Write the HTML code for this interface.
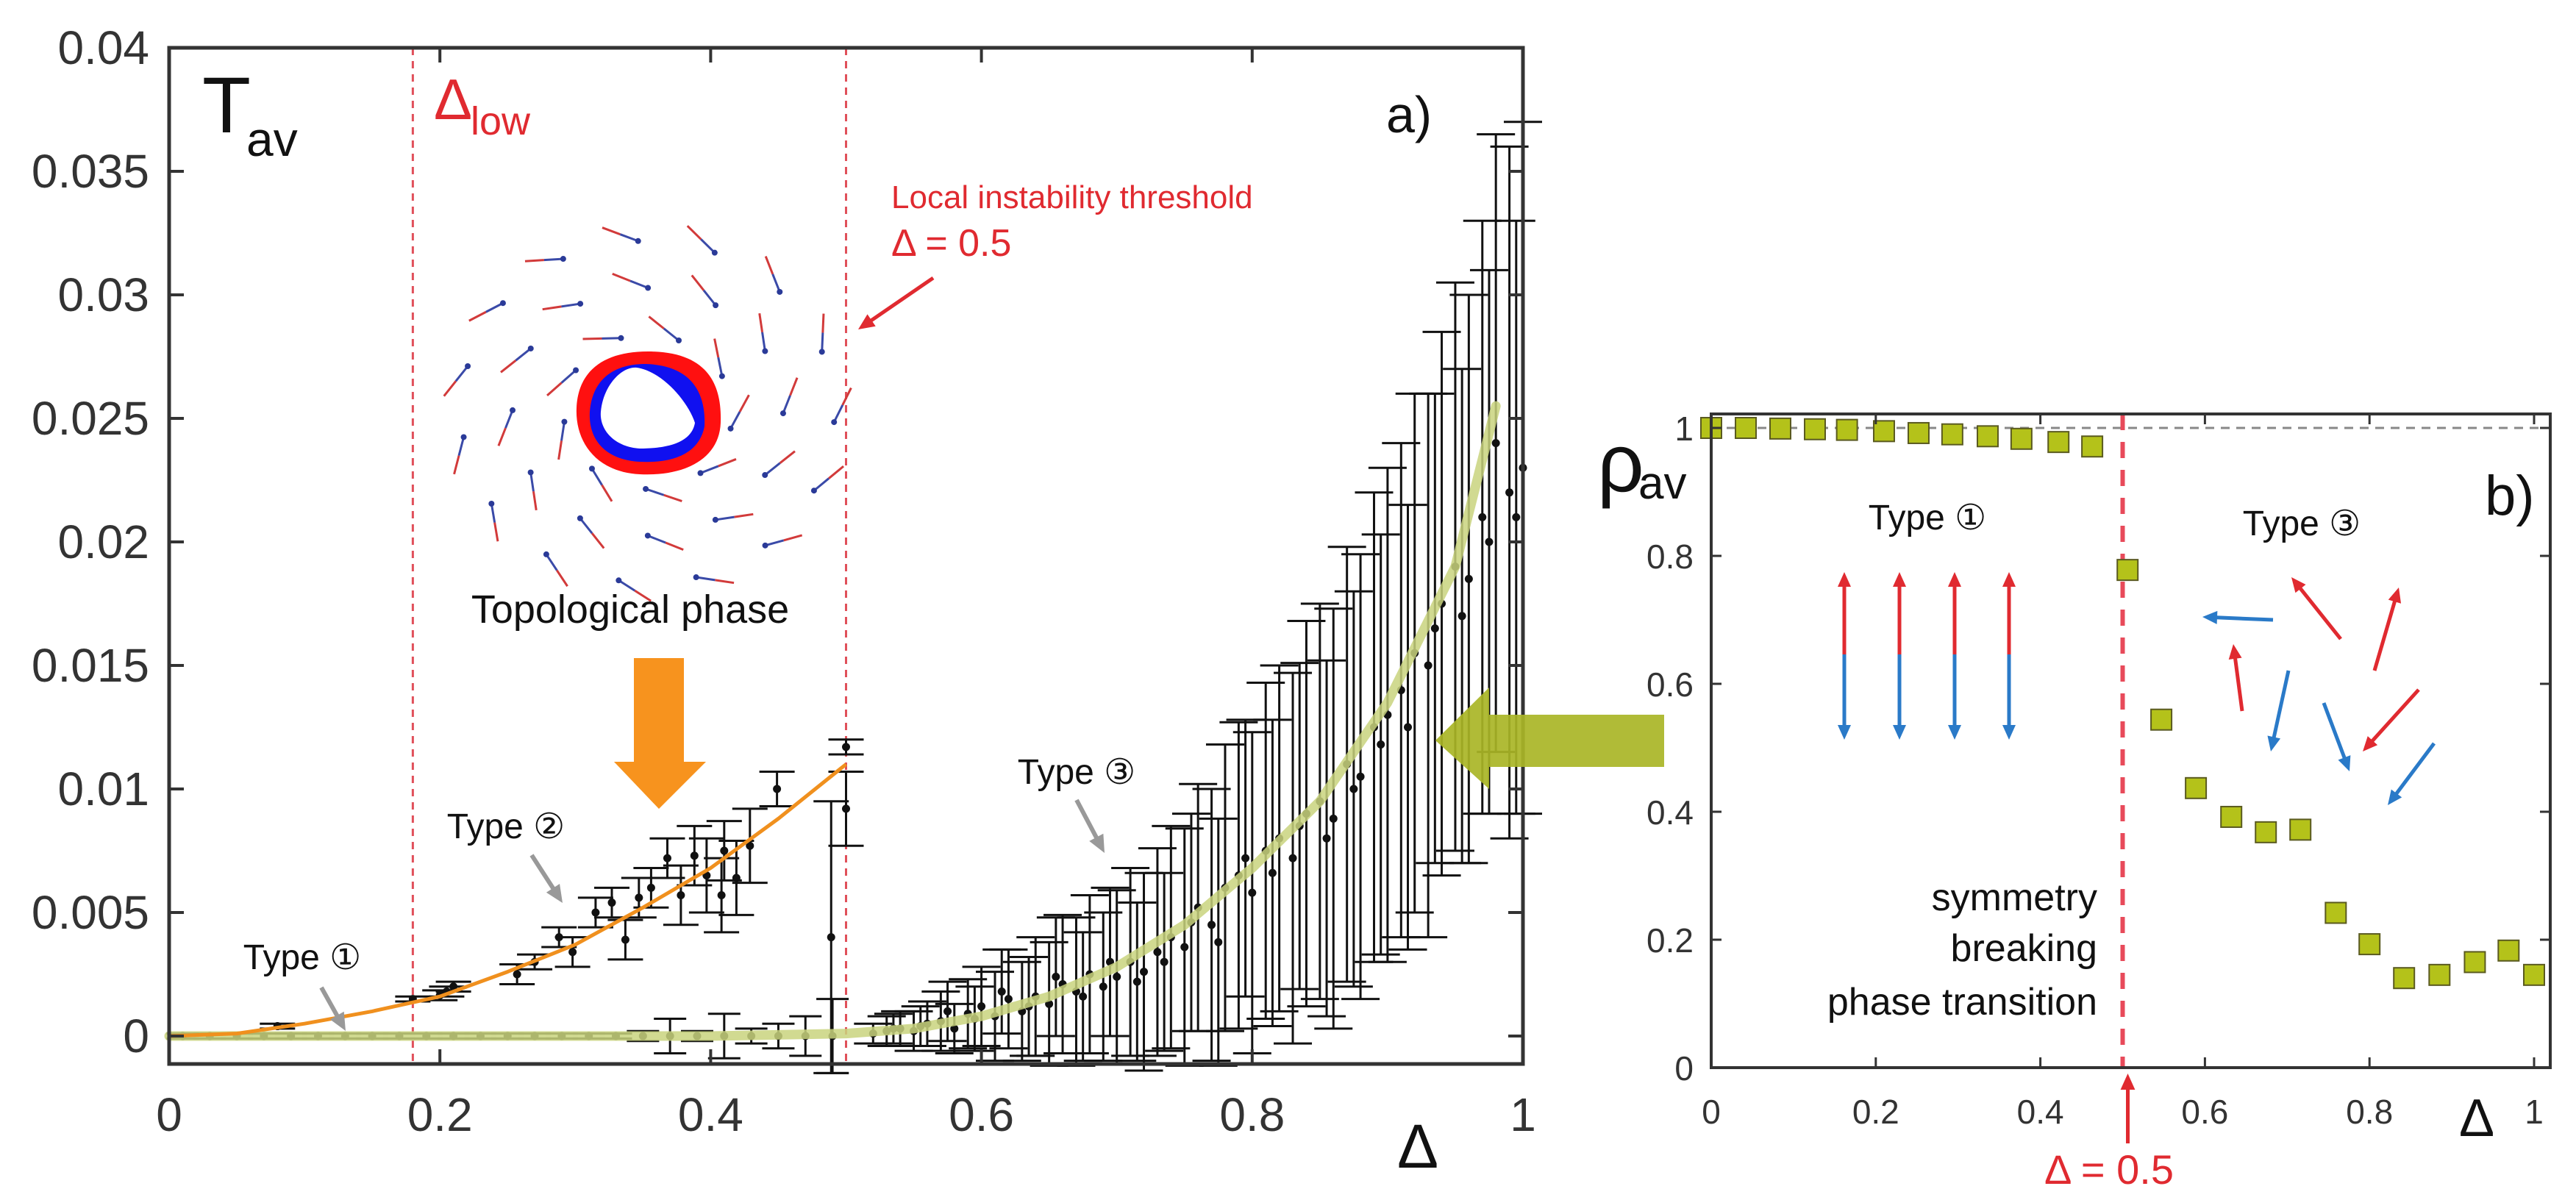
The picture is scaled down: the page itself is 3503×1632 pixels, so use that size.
<!DOCTYPE html>
<html><head><meta charset="utf-8"><style>
html,body{margin:0;padding:0;background:#fff}
svg{display:block}
text{font-family:"Liberation Sans",Arial,sans-serif}
</style></head>
<body>
<svg id="fig" width="3503" height="1632" viewBox="0 0 3503 1632" xmlns="http://www.w3.org/2000/svg">
<g id="pa"></g>
<g id="pb"></g>
</svg>
<script>
// ---------- Panel a data ----------
const aXTicks = [0, 0.2, 0.4, 0.6, 0.8, 1];
const aXTickLabels = ["0", "0.2", "0.4", "0.6", "0.8", "1"];
const aYTicks = [0, 0.005, 0.01, 0.015, 0.02, 0.025, 0.03, 0.035, 0.04];
const aYTickLabels = ["0", "0.005", "0.01", "0.015", "0.02", "0.025", "0.03", "0.035", "0.04"];
const type2X = [0.08,0.18,0.2,0.205,0.21,0.257,0.27,0.288,0.298,0.315,0.327,0.337,0.347,0.356,0.368,0.378,0.388,0.397,0.408,0.41,0.419,0.429,0.449,0.489,0.5,0.5];
const type2Y = [0.0004,0.0015,0.00165,0.0018,0.002,0.0025,0.003,0.004,0.0034,0.005,0.0054,0.0039,0.0056,0.006,0.0072,0.0057,0.0073,0.0065,0.0057,0.0075,0.0064,0.0077,0.01,0.004,0.0117,0.0092];
const type2Err = [0.0001,0.0001,0.0002,0.0002,0.0002,0.0004,0.0003,0.0004,0.0006,0.0006,0.0006,0.0008,0.0008,0.0008,0.0008,0.0012,0.0012,0.0015,0.0015,0.0012,0.0015,0.0015,0.0007,0.0055,0.0003,0.0015];
const type1X = [0.01,0.03,0.05,0.07,0.09,0.11,0.13,0.15,0.17,0.19,0.21,0.23,0.25,0.27,0.29,0.31,0.33,0.35,0.37,0.39,0.41,0.43,0.45,0.47,0.49];
const type1Y = [0,0,0,0,0,0,0,0,0,0,0,0,0,0,0,0,0,0,0,0,0,0,0,0,0];
const type1Err = [0.0001,0.0001,0.0001,0.0001,0.0001,0.0001,0.0001,0.0001,0.0001,0.0001,0.0001,0.0001,0.0001,0.0001,0.0001,0.0001,0.0001,0.0002,0.0007,0.0002,0.0009,0.0003,0.0005,0.0008,0.0015];
const type3X = [0.52,0.53,0.54,0.55,0.56,0.57,0.58,0.59,0.60,0.61,0.62,0.63,0.64,0.65,0.66,0.67,0.68,0.69,0.70,0.71,0.72,0.73,0.74,0.75,0.76,0.77,0.78,0.79,0.80,0.81,0.82,0.83,0.84,0.85,0.86,0.87,0.88,0.89,0.90,0.91,0.92,0.93,0.94,0.95,0.96,0.97,0.98,0.99,1.0];
const type3Y = [0.0001,0.0002,0.0003,0.0002,0.0005,0.0006,0.0003,0.0009,0.0012,0.0008,0.0015,0.0010,0.0016,0.0013,0.0021,0.0018,0.0025,0.0020,0.0024,0.0030,0.0026,0.0034,0.0040,0.0036,0.0052,0.0045,0.0060,0.0065,0.0058,0.0075,0.0080,0.0072,0.0090,0.0095,0.0088,0.0110,0.0105,0.0125,0.0130,0.0140,0.0155,0.0150,0.0175,0.0190,0.0185,0.0210,0.0240,0.0220,0.0230];
const type3Err = [0.0004,0.0006,0.0007,0.0008,0.0009,0.0012,0.0010,0.0014,0.0016,0.0018,0.0020,0.0020,0.0024,0.0025,0.0028,0.0030,0.0032,0.0030,0.0035,0.0038,0.0040,0.0042,0.0045,0.0048,0.0050,0.0055,0.0058,0.0062,0.0065,0.0068,0.0070,0.0075,0.0078,0.0080,0.0085,0.0088,0.0090,0.0095,0.0100,0.0100,0.0105,0.0110,0.0110,0.0115,0.0115,0.0120,0.0125,0.0140,0.0140];
const type3bX = [0.535,0.555,0.575,0.595,0.615,0.635,0.655,0.675,0.695,0.715,0.735,0.755,0.775,0.795,0.815,0.835,0.855,0.875,0.895,0.915,0.935,0.955,0.975,0.995];
const type3bY = [0.0003,0.0004,0.0010,0.0007,0.0018,0.0012,0.0024,0.0016,0.0030,0.0022,0.0030,0.0046,0.0038,0.0072,0.0066,0.0085,0.0080,0.0100,0.0118,0.0125,0.0165,0.0170,0.0200,0.0210];
const type3bErr = [0.0006,0.0008,0.0012,0.0013,0.0017,0.0020,0.0024,0.0026,0.0030,0.0032,0.0036,0.0044,0.0050,0.0056,0.0062,0.0066,0.0072,0.0080,0.0085,0.0090,0.0095,0.0100,0.0110,0.0120];
const orangeX = [0,0.05,0.1,0.15,0.2,0.25,0.3,0.35,0.4,0.45,0.5];
const orangeY = [0,0.0001,0.0005,0.001,0.0016,0.0026,0.0037,0.0052,0.0068,0.0088,0.011];
const greenX = [0,0.1,0.2,0.3,0.4,0.5,0.55,0.6,0.65,0.7,0.75,0.8,0.85,0.9,0.95,0.98];
const greenY = [0,0,0,0,0,0.0001,0.0003,0.0008,0.0016,0.0028,0.0045,0.0068,0.0095,0.0135,0.019,0.0255];

// ---------- Panel b data ----------
const bXTicks = [0,0.2,0.4,0.6,0.8,1];
const bXTickLabels = ["0","0.2","0.4","0.6","0.8","1"];
const bYTicks = [0,0.2,0.4,0.6,0.8,1];
const bYTickLabels = ["0","0.2","0.4","0.6","0.8","1"];
const rhoX = [0,0.042,0.084,0.126,0.165,0.21,0.252,0.293,0.336,0.377,0.422,0.463,0.506,0.547,0.589,0.632,0.674,0.716,0.759,0.8,0.842,0.885,0.928,0.969,1.0];
const rhoY = [1,1,0.999,0.998,0.997,0.995,0.992,0.99,0.987,0.983,0.978,0.971,0.778,0.544,0.437,0.392,0.368,0.372,0.242,0.193,0.140,0.145,0.165,0.183,0.145];

const NS="http://www.w3.org/2000/svg";
function mk(parent,tag,attrs,txt){const e=document.createElementNS(NS,tag);for(const k in attrs)e.setAttribute(k,attrs[k]);if(txt!==undefined)e.textContent=txt;parent.appendChild(e);return e;}
const pa=document.getElementById('pa'), pb=document.getElementById('pb');

const AX0=230, AX1=2071, AY0=1409, ATOP=65, ABOT=1447;
const ax=v=>AX0+v*(AX1-AX0);
const ay=t=>AY0-t*33600;

[0.18,0.5].forEach(v=>{
  const l=mk(pa,'line',{x1:ax(v),x2:ax(v),y1:ATOP,y2:ABOT,stroke:'#e0505a','stroke-width':3,'stroke-dasharray':'10 8'});
  
  
});

// vortex decoration
const vort=mk(pa,'g',{});


const vcx=881,vcy=560;
for(let ring=0;ring<3;ring++){
  const r=125+ring*70;
  const n=9+ring*3;
  for(let i=0;i<n;i++){
    const th=i/n*2*Math.PI+ring*0.4;
    const px=vcx+r*Math.cos(th), py=vcy+r*0.92*Math.sin(th);
    const tx=-Math.sin(th+0.5), ty=Math.cos(th+0.5);
    const L=26;
    const x1=px-tx*L,y1=py-ty*L,x2=px+tx*L,y2=py+ty*L;
    mk(vort,'line',{x1:x1,y1:y1,x2:px,y2:py,stroke:'#d23a3a','stroke-width':3});
    mk(vort,'line',{x1:px,y1:py,x2:x2,y2:y2,stroke:'#3a4aa8','stroke-width':3});
    mk(vort,'circle',{cx:x2,cy:y2,r:4,fill:'#2a3a98'});
  }
}
mk(vort,'path',{d:'M881,478 C960,478 982,520 980,575 C978,625 930,648 870,645 C810,642 782,600 784,555 C786,505 820,478 881,478 Z',fill:'#ff1010'});
mk(vort,'path',{d:'M878,495 C945,497 960,540 958,580 C950,620 910,630 870,628 C820,625 800,595 802,560 C805,520 830,495 878,495 Z',fill:'#1010f0'});
mk(vort,'path',{d:'M866,500 C900,505 935,545 945,575 C940,605 900,610 870,610 C836,608 815,585 817,560 C820,525 845,498 866,500 Z',fill:'#fff'});

function ebar(g,x,y,e,cw,name){
  const gg=mk(g,'g',{});
  
  
  const X=ax(x);
  mk(gg,'line',{x1:X,x2:X,y1:ay(y-e),y2:ay(y+e),stroke:'#111','stroke-width':3});
  mk(gg,'line',{x1:X-cw,x2:X+cw,y1:ay(y-e),y2:ay(y-e),stroke:'#111','stroke-width':3});
  mk(gg,'line',{x1:X-cw,x2:X+cw,y1:ay(y+e),y2:ay(y+e),stroke:'#111','stroke-width':3});
  mk(gg,'circle',{cx:X,cy:ay(y),r:5.5,fill:'#111'});
}
const g1=mk(pa,'g',{});


type1X.forEach((x,i)=>ebar(g1,x,type1Y[i],type1Err[i],22,'type1-point'));
const g3=mk(pa,'g',{});


type3X.forEach((x,i)=>ebar(g3,x,type3Y[i],type3Err[i],26,'type3-point'));
const g3b=mk(pa,'g',{});


type3bX.forEach((x,i)=>ebar(g3b,x,type3bY[i],type3bErr[i],26,'type3-point'));
const g2=mk(pa,'g',{});


type2X.forEach((x,i)=>ebar(g2,x,type2Y[i],type2Err[i],24,'type2-point'));

function poly(xs,ys){return xs.map((x,i)=>ax(x).toFixed(1)+','+ay(ys[i]).toFixed(1)).join(' ');}
const gc=mk(pa,'polyline',{points:poly(greenX,greenY),fill:'none',stroke:'#c9d47e','stroke-width':13,'stroke-opacity':0.85,'stroke-linejoin':'round','stroke-linecap':'round'});


const oc=mk(pa,'polyline',{points:poly(orangeX,orangeY),fill:'none',stroke:'#f0901e','stroke-width':5,'stroke-linejoin':'round'});



const boxA=mk(pa,'rect',{x:AX0,y:ATOP,width:AX1-AX0,height:ABOT-ATOP,fill:'none',stroke:'#333','stroke-width':5});


aXTicks.forEach((v,i)=>{
  mk(pa,'line',{x1:ax(v),x2:ax(v),y1:ABOT,y2:ABOT-20,stroke:'#333','stroke-width':4});
  mk(pa,'line',{x1:ax(v),x2:ax(v),y1:ATOP,y2:ATOP+20,stroke:'#333','stroke-width':4});
  const t=mk(pa,'text',{x:ax(v),y:1538,'font-size':64,'text-anchor':'middle',fill:'#333'},aXTickLabels[i]);
  
  
});
aYTicks.forEach((v,i)=>{
  mk(pa,'line',{x1:AX0,x2:AX0+20,y1:ay(v),y2:ay(v),stroke:'#333','stroke-width':4});
  mk(pa,'line',{x1:AX1,x2:AX1-20,y1:ay(v),y2:ay(v),stroke:'#333','stroke-width':4});
  const t=mk(pa,'text',{x:203,y:ay(v)+22,'font-size':64,'text-anchor':'end',fill:'#333'},aYTickLabels[i]);
  
  
});

// ---------- Panel b ----------
const BX0=2327, BX1=3446, BRIGHT=3468, BY0=1452, BY1=582, BTOP=563;
const bx=v=>BX0+v*(BX1-BX0);
const by=r=>BY0-r*(BY0-BY1);
const dl=mk(pb,'line',{x1:BX0,x2:BRIGHT,y1:by(1),y2:by(1),stroke:'#888','stroke-width':3,'stroke-dasharray':'12 9'});


const rl=mk(pb,'line',{x1:bx(0.5),x2:bx(0.5),y1:BTOP,y2:BY0,stroke:'#e84a5a','stroke-width':6,'stroke-dasharray':'22 16'});


rhoX.forEach((x,i)=>{
  const s=mk(pb,'rect',{x:bx(x)-14,y:by(rhoY[i])-14,width:28,height:28,fill:'#b4c21a',stroke:'#5a5a20','stroke-width':2});
  
  
});
const boxB=mk(pb,'path',{d:`M${BX0},${BTOP} L${BRIGHT},${BTOP} L${BRIGHT},${BY0} L${BX0},${BY0} Z`,fill:'none',stroke:'#333','stroke-width':4});


bXTicks.forEach((v,i)=>{
  mk(pb,'line',{x1:bx(v),x2:bx(v),y1:BY0,y2:BY0-14,stroke:'#333','stroke-width':3});
  mk(pb,'line',{x1:bx(v),x2:bx(v),y1:BTOP,y2:BTOP+14,stroke:'#333','stroke-width':3});
  const t=mk(pb,'text',{x:bx(v),y:1528,'font-size':46,'text-anchor':'middle',fill:'#333'},bXTickLabels[i]);
  
  
});
bYTicks.forEach((v,i)=>{
  mk(pb,'line',{x1:BX0,x2:BX0+14,y1:by(v),y2:by(v),stroke:'#333','stroke-width':3});
  mk(pb,'line',{x1:BRIGHT,x2:BRIGHT-14,y1:by(v),y2:by(v),stroke:'#333','stroke-width':3});
  const t=mk(pb,'text',{x:2303,y:by(v)+17,'font-size':46,'text-anchor':'end',fill:'#333'},bYTickLabels[i]);
  
  
});
function arrowLine(g,x1,y1,x2,y2,col,w,hs,name){
  const gg=mk(g,'g',{});
  
  
  const a=Math.atan2(y2-y1,x2-x1);
  mk(gg,'line',{x1:x1,y1:y1,x2:x2-Math.cos(a)*hs*0.8,y2:y2-Math.sin(a)*hs*0.8,stroke:col,'stroke-width':w});
  const p1=[x2-hs*Math.cos(a)+hs*0.45*Math.sin(a),y2-hs*Math.sin(a)-hs*0.45*Math.cos(a)];
  const p2=[x2-hs*Math.cos(a)-hs*0.45*Math.sin(a),y2-hs*Math.sin(a)+hs*0.45*Math.cos(a)];
  mk(gg,'polygon',{points:`${x2},${y2} ${p1[0]},${p1[1]} ${p2[0]},${p2[1]}`,fill:col});
}
[2508,2583,2658,2732].forEach(x=>{
  arrowLine(pb,x,890,x,778,'#e02a30',5,20,'spin-up-arrow');
  arrowLine(pb,x,890,x,1006,'#2a7ac8',5,20,'spin-down-arrow');
});
[[3091,843,2995,839,'#2a7ac8'],[3183,869,3116,785,'#e02a30'],[3229,912,3262,799,'#e02a30'],[3049,967,3037,876,'#e02a30'],
 [3112,912,3088,1022,'#2a7ac8'],[3160,956,3195,1049,'#2a7ac8'],[3289,938,3213,1022,'#e02a30'],[3310,1011,3247,1095,'#2a7ac8']].forEach(a=>arrowLine(pb,a[0],a[1],a[2],a[3],a[4],5,20,'random-spin-arrow'));
arrowLine(pb,bx(0.5)+7,1555,bx(0.5)+7,1460,'#e02a30',5,22,'threshold-marker-arrow');

const labels=[
 [pa,275,180,'T','#111',108,'start','y-axis-title-a'],
 [pa,335,212,'av','#111',66,'start','y-axis-subscript-a'],
 [pa,590,162,'Δ','#e02a30',78,'start','delta-low-label'],
 [pa,640,183,'low','#e02a30',54,'start','delta-low-subscript'],
 [pa,1885,180,'a)','#111',70,'start','panel-a-label'],
 [pa,1212,283,'Local instability threshold','#e02a30',44,'start','instability-threshold-label'],
 [pa,1212,348,'Δ = 0.5','#e02a30',52,'start','threshold-value-label'],
 [pa,857,847,'Topological phase','#111',54,'middle','topological-phase-label'],
 [pa,688,1140,'Type ②','#111',48,'middle','type2-label'],
 [pa,411,1318,'Type ①','#111',48,'middle','type1-label'],
 [pa,1464,1066,'Type ③','#111',48,'middle','type3-label'],
 [pa,1928,1588,'Δ','#111',84,'middle','x-axis-title-a'],
 [pb,2172,668,'ρ','#111',112,'start','y-axis-title-b'],
 [pb,2228,678,'av','#111',62,'start','y-axis-subscript-b'],
 [pb,3379,700,'b)','#111',76,'start','panel-b-label'],
 [pb,2621,720,'Type ①','#111',48,'middle','type1-label-b'],
 [pb,3130,728,'Type ③','#111',48,'middle','type3-label-b'],
 [pb,2852,1238,'symmetry','#111',52,'end','transition-label-line1'],
 [pb,2852,1307,'breaking','#111',52,'end','transition-label-line2'],
 [pb,2852,1380,'phase transition','#111',52,'end','transition-label-line3'],
 [pb,3368,1545,'Δ','#111',72,'middle','x-axis-title-b'],
 [pb,2868,1610,'Δ = 0.5','#e02a30',56,'middle','threshold-value-label-b']
];
labels.forEach(l=>{
  const t=mk(l[0],'text',{x:l[1],y:l[2],fill:l[4],'font-size':l[5],'text-anchor':l[6]},l[3]);
  
  
});
arrowLine(pa,1269,378,1167,448,'#e02a30',5,22,'threshold-pointer-arrow');
arrowLine(pa,723,1163,765,1228,'#999',6,24,'type2-pointer-arrow');
arrowLine(pa,437,1343,470,1402,'#999',6,24,'type1-pointer-arrow');
arrowLine(pa,1464,1088,1502,1160,'#999',6,24,'type3-pointer-arrow');
const oa=mk(pa,'polygon',{points:'862,895 930,895 930,1036 960,1036 896,1100 835,1036 862,1036',fill:'#f7931e'});


const ga=mk(document.getElementById('fig'),'polygon',{points:'2263,972 2025,972 2025,935 1952,1007 2025,1073 2025,1043 2263,1043',fill:'#a9b526','fill-opacity':0.92});


</script>
</body></html>
